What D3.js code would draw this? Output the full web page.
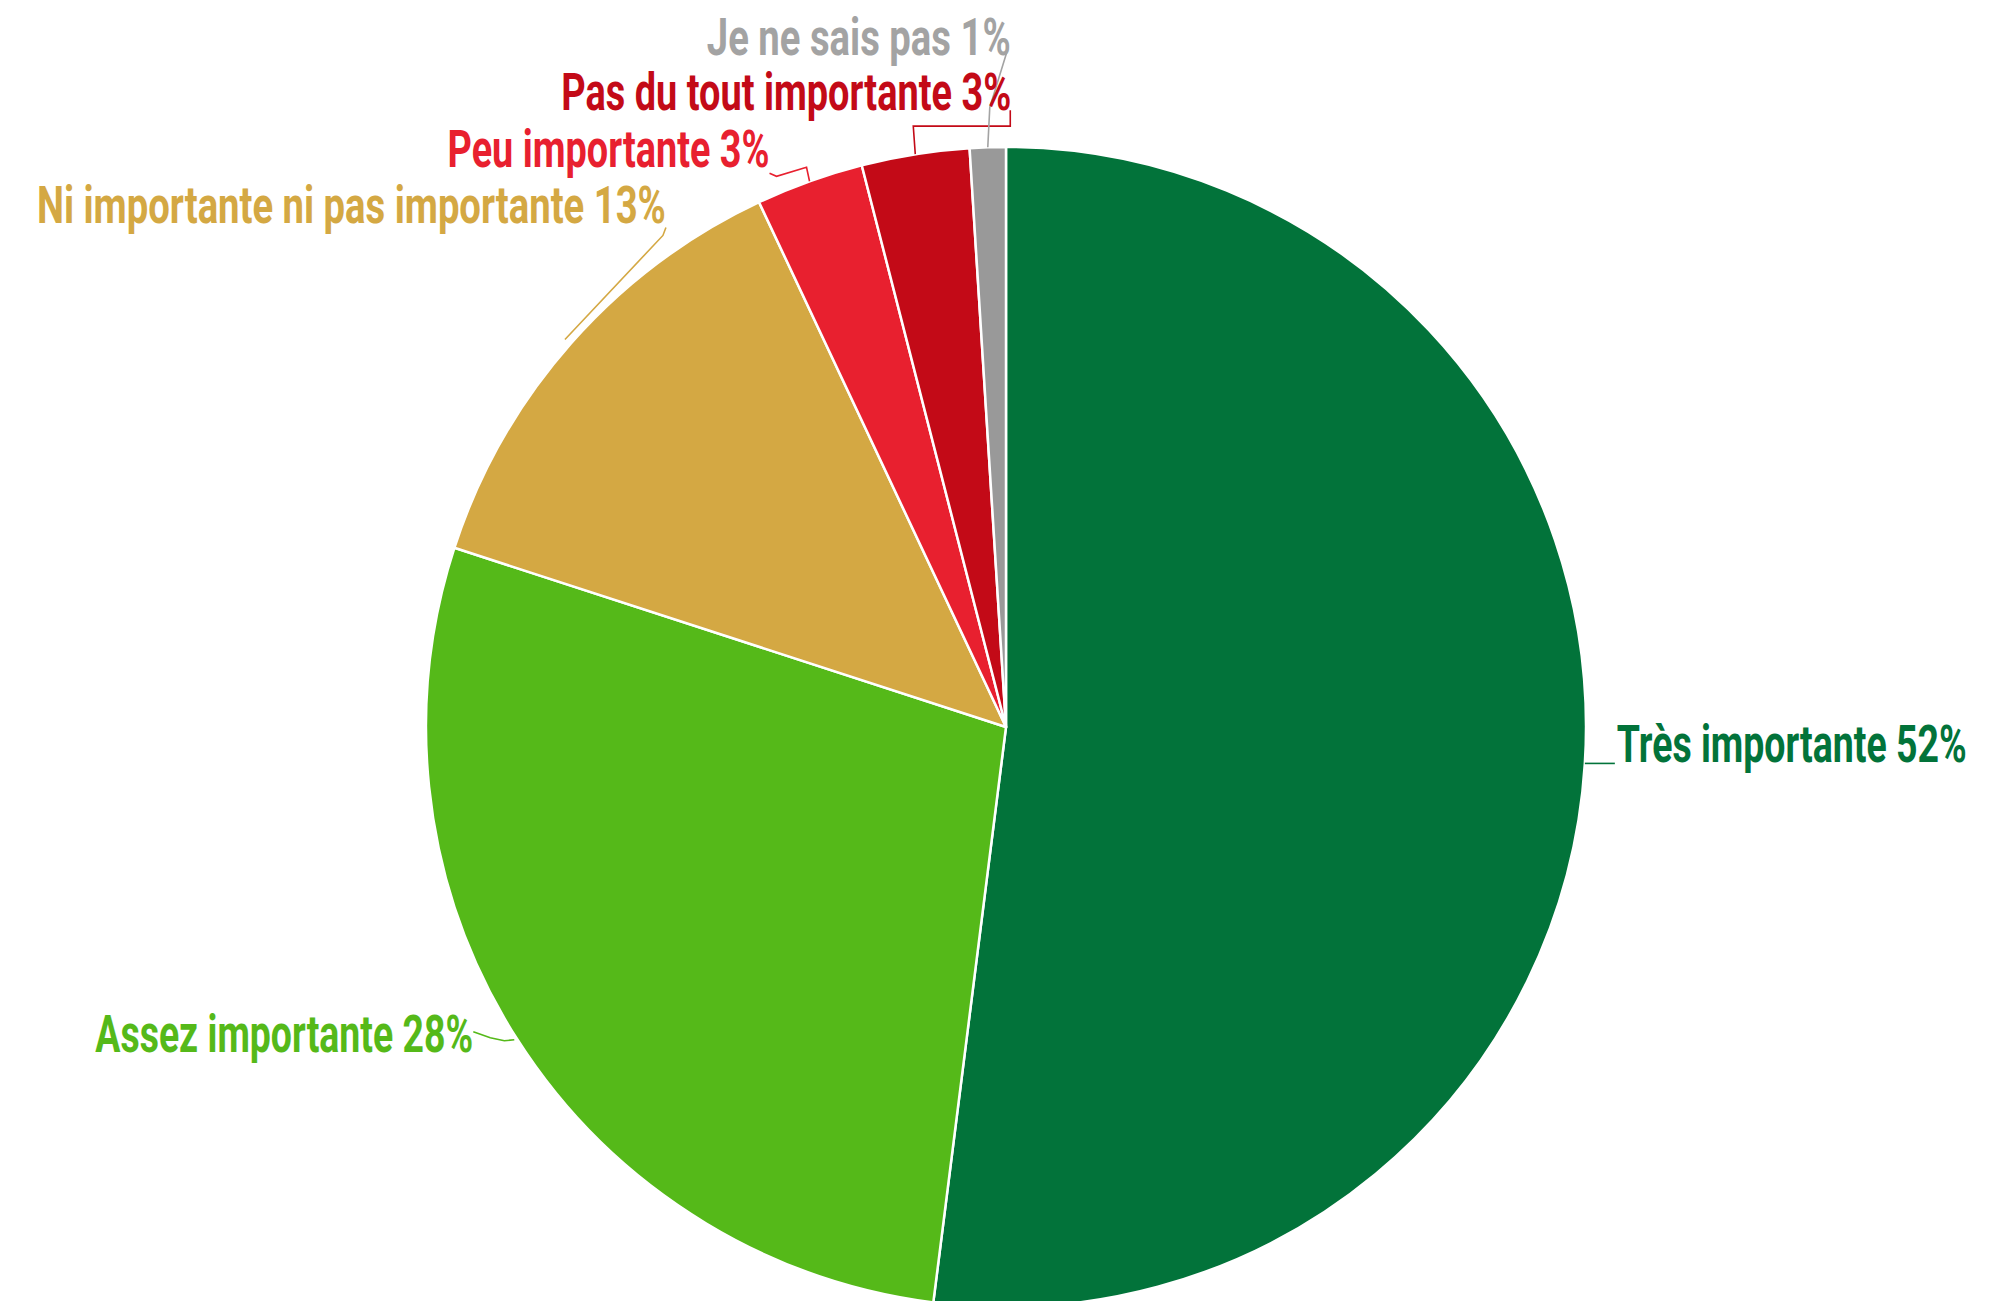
<!DOCTYPE html>
<html>
<head>
<meta charset="utf-8">
<script src="https://cdn.jsdelivr.net/npm/d3@7"></script>
<style>
  html, body { margin: 0; padding: 0; background: #fff; }
  svg { display: block; }
</style>
</head>
<body>
<div id="chart"></div>
<script>
var width  = 2006,
    height = 1301,
    cx     = 1006,
    cy     = 727,
    radius = 580;

// data
var categories = ["Très importante", "Assez importante", "Ni importante ni pas importante",
                  "Peu importante", "Pas du tout importante", "Je ne sais pas"];
var values     = [52, 28, 13, 3, 3, 1];
var sliceColors = ["#02733a", "#55b919", "#d4a843", "#e8202f", "#c30a17", "#999999"];
var textColors  = ["#02733a", "#55b919", "#d4a843", "#e8202f", "#c30a17", "#a3a3a3"];

// label layout, relative to the point on the rim at each slice's mid angle
// dx/dy: where the text's left edge / baseline sit, w: text width, pts: leader polyline
var labelLayout = [
    { dx: 32,   dy: -1,   w: 350, pts: [[0, 0], [30, 0]] },
    { dx: -421, dy: 14,   w: 378, pts: [[-2, 2], [-12, 3], [-26, 0], [-43, -6]] },
    { dx: -534, dy: -120, w: 629, pts: [[-6, -4], [92, -108], [95, -116]] },
    { dx: -362, dy: -14,  w: 322, pts: [[0, 0], [-3, -14], [-33, -5], [-40, -8]] },
    { dx: -354, dy: -44,  w: 450, pts: [[0, 0], [-2, -28], [95, -28], [95, -44]] },
    { dx: -281, dy: -92,  w: 304, pts: [[0, 0], [2, -40], [19, -95]] }
];

var data = categories.map(function(c, i) {
    return { name: c, value: values[i], i: i };
});

var svg = d3.select("#chart").append("svg")
    .attr("width", width)
    .attr("height", height);

var pie = d3.pie()
    .sort(null)
    .value(function(d) { return d.value; })
    .startAngle(0)
    .endAngle(2 * Math.PI);

var arc = d3.arc()
    .innerRadius(0)
    .outerRadius(radius);

var arcs = pie(data);

var g = svg.append("g")
    .attr("transform", "translate(" + cx + "," + cy + ")");

g.selectAll("path.slice")
    .data(arcs)
    .enter()
    .append("path")
    .attr("class", "slice")
    .attr("d", arc)
    .attr("fill", function(d) { return sliceColors[d.data.i]; })
    .attr("stroke", "#fff")
    .attr("stroke-width", 2.5)
    .attr("stroke-linejoin", "round");

// point on the rim at the slice's mid angle
function rimPoint(d) {
    var a = (d.startAngle + d.endAngle) / 2;
    return [radius * Math.sin(a), -radius * Math.cos(a)];
}

var line = d3.line();

g.selectAll("path.leader")
    .data(arcs)
    .enter()
    .append("path")
    .attr("class", "leader")
    .attr("d", function(d) {
        var p = rimPoint(d), l = labelLayout[d.data.i];
        return line(l.pts.map(function(q) { return [p[0] + q[0], p[1] + q[1]]; }));
    })
    .attr("fill", "none")
    .attr("stroke", function(d) { return textColors[d.data.i]; })
    .attr("stroke-width", 1.6);

// labels: the font is squeezed to the reference's width by a horizontal scale
g.selectAll("text.label")
    .data(arcs)
    .enter()
    .append("text")
    .attr("class", "label")
    .style("font-family", "Roboto, 'DejaVu Sans Condensed', sans-serif")
    .style("font-weight", "700")
    .style("font-size", "52px")
    .attr("fill", function(d) { return textColors[d.data.i]; })
    .text(function(d) { return d.data.name + " " + d.data.value + "%"; })
    .attr("transform", function(d) {
        var p = rimPoint(d), l = labelLayout[d.data.i];
        var natural = this.getComputedTextLength();
        var k = l.w / natural;
        return "translate(" + (p[0] + l.dx) + "," + (p[1] + l.dy) + ") scale(" + k + ",1)";
    });
</script>
</body>
</html>
